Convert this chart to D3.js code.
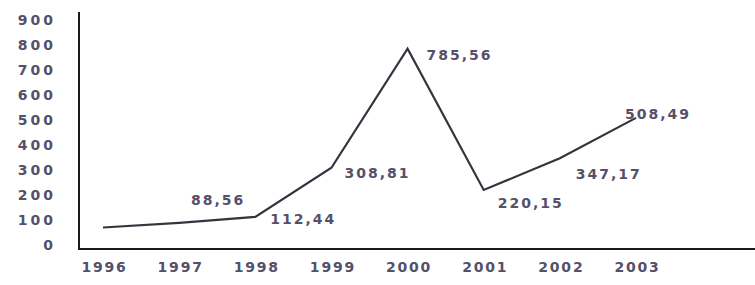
<!DOCTYPE html>
<html>
<head>
<meta charset="utf-8">
<script src="https://cdn.jsdelivr.net/npm/d3@7"></script>
<style>
  body { margin: 0; background: #fff; }
  svg { display: block; }
</style>
</head>
<body>
<svg class="chart"></svg>
<script>
// Data
const years = ["1996", "1997", "1998", "1999", "2000", "2001", "2002", "2003"];
const values = [70, 88.56, 112.44, 308.81, 785.56, 220.15, 347.17, 508.49];
const showLabel = [false, true, true, true, true, true, true, true];
const yTicks = [0, 100, 200, 300, 400, 500, 600, 700, 800, 900];

// label offsets from the point (layout only)
const labelDx = [0, 39, 48, 46, 52, 47, 49, 22];
const labelDy = [0, -23, 2, 5, 6, 13, 16, -4];

function createChart() {
  const width = 755;
  const height = 285;
  const axisX = 79;
  const axisBottom = 249;
  const axisTop = 12;

  const x = d3.scalePoint()
    .domain(years)
    .range([103, 636]);

  const y = d3.scaleLinear()
    .domain([0, 900])
    .range([245, 20]);

  const svg = d3.select("svg.chart")
    .attr("width", width)
    .attr("height", height)
    .attr("viewBox", `0 0 ${width} ${height}`);

  const textColor = "#55506a";
  const font = "bold 14px 'DejaVu Sans'";
  const fmt = v => d3.format(".2f")(v).replace(".", ",");

  // frame
  svg.append("line")
    .attr("x1", axisX).attr("x2", axisX)
    .attr("y1", axisTop).attr("y2", axisBottom)
    .attr("stroke", "#1a1a1a").attr("stroke-width", 2);
  svg.append("line")
    .attr("x1", axisX - 1).attr("x2", width)
    .attr("y1", axisBottom).attr("y2", axisBottom)
    .attr("stroke", "#1a1a1a").attr("stroke-width", 2);

  // y tick labels
  svg.append("g")
    .attr("transform", `translate(56,0)`)
    .call(d3.axisLeft(y).tickValues(yTicks).tickSize(0).tickPadding(0))
    .call(g => g.select(".domain").remove())
    .call(g => g.selectAll("text")
      .attr("fill", textColor)
      .style("font", font)
      .style("letter-spacing", "3px"));

  // x tick labels
  svg.append("g")
    .attr("transform", `translate(0,262)`)
    .call(d3.axisBottom(x).tickSize(0).tickPadding(0))
    .call(g => g.select(".domain").remove())
    .call(g => g.selectAll("text")
      .attr("fill", textColor)
      .attr("dx", "1px")
      .style("font", font)
      .style("letter-spacing", "1.8px"));

  // line
  const line = d3.line()
    .x((d, i) => x(years[i]))
    .y(d => y(d));

  svg.append("path")
    .datum(values)
    .attr("fill", "none")
    .attr("stroke", "#36333f")
    .attr("stroke-width", 2.2)
    .attr("stroke-linejoin", "miter")
    .attr("d", line);

  // value labels
  svg.append("g")
    .attr("fill", textColor)
    .style("font", font)
    .style("letter-spacing", "2px")
    .attr("text-anchor", "middle")
    .selectAll("text")
    .data(values.map((v, i) => ({ v, i })).filter(d => showLabel[d.i]))
    .join("text")
    .attr("x", d => x(years[d.i]) + labelDx[d.i])
    .attr("y", d => y(d.v) + labelDy[d.i])
    .attr("dy", "0.35em")
    .text(d => fmt(d.v));
}

createChart();
</script>
</body>
</html>
